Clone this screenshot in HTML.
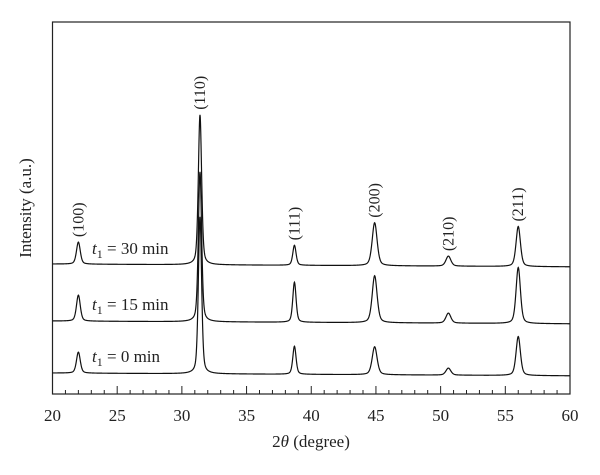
<!DOCTYPE html>
<html><head><meta charset="utf-8"><style>
html,body{margin:0;padding:0;background:#fff;}
svg{display:block;font-family:"Liberation Serif",serif;}
</style></head><body>
<svg id="chart" width="600" height="475" viewBox="0 0 600 475">
<rect x="52.5" y="22" width="517.5" height="372" fill="none" stroke="#222" stroke-width="1.2"/>
<g id="ticks"></g>
<g id="series"></g>
<g id="labels"></g>
<text x="31" y="208" transform="rotate(-90 31 208)" text-anchor="middle" font-size="17" fill="#222">Intensity (a.u.)</text>
<text x="311" y="447" text-anchor="middle" font-size="17" fill="#222">2<tspan font-style="italic">θ</tspan> (degree)</text>
<text x="92" y="254" font-size="17" fill="#222"><tspan font-style="italic">t</tspan><tspan font-size="12" dy="4">1</tspan><tspan dy="-4"> = 30 min</tspan></text>
<text x="92" y="310" font-size="17" fill="#222"><tspan font-style="italic">t</tspan><tspan font-size="12" dy="4">1</tspan><tspan dy="-4"> = 15 min</tspan></text>
<text x="92" y="362" font-size="17" fill="#222"><tspan font-style="italic">t</tspan><tspan font-size="12" dy="4">1</tspan><tspan dy="-4"> = 0 min</tspan></text>
</svg>
<script>
const xTicks = [20,25,30,35,40,45,50,55,60];
const peakPos = [22.0,31.4,38.7,44.9,50.6,56.0];
const peakWidth = [0.35,0.3,0.3,0.45,0.45,0.4];
const peakNames = ["(100)","(110)","(111)","(200)","(210)","(211)"];
const seriesNames = ["30 min","15 min","0 min"];
const seriesOffset = [130,73,21];
const heights30 = [22,150,20,43,10,40];
const heights15 = [26,150,40,47,10,56];
const heights0 = [21,157,28,28,7,39];
const allHeights = [heights30,heights15,heights0];

const X0=52.5,X1=570,Y0=394;
function xs(v){return X0+(v-20)/(60-20)*(X1-X0);}
function ys(v){return Y0-v;}
const NS="http://www.w3.org/2000/svg";
const ticks=document.getElementById('ticks');
for(let v=20;v<=60;v++){
  const major=xTicks.includes(v);
  const l=document.createElementNS(NS,'line');
  
  
  l.setAttribute('x1',xs(v));l.setAttribute('x2',xs(v));
  l.setAttribute('y1',Y0);l.setAttribute('y2',Y0-(major?8:4));
  l.setAttribute('stroke','#222');l.setAttribute('stroke-width','1');
  ticks.appendChild(l);
}
xTicks.forEach(v=>{
  const t=document.createElementNS(NS,'text');
  
  
  t.setAttribute('x',xs(v));t.setAttribute('y',421);
  t.setAttribute('text-anchor','middle');t.setAttribute('font-size','17');t.setAttribute('fill','#222');
  t.textContent=v;ticks.appendChild(t);
});
function profile(x,hs){
  let s=0;
  for(let i=0;i<peakPos.length;i++){
    const w=peakWidth[i]/2,d=(x-peakPos[i])/w;
    s+=hs[i]*(0.6*Math.exp(-0.693*d*d)+0.4/(1+d*d));
  }
  return s;
}
const sg=document.getElementById('series');
allHeights.forEach((hs,k)=>{
  let d='';
  for(let x=20;x<=60.0001;x+=0.02){
    const base=seriesOffset[k]-(x-20)*0.07;
    const y=base+profile(x,hs);
    d+=(d?'L':'M')+xs(x).toFixed(2)+','+ys(y).toFixed(2);
  }
  const p=document.createElementNS(NS,'path');
  
  
  p.setAttribute('d',d);p.setAttribute('fill','none');p.setAttribute('stroke','#111');p.setAttribute('stroke-width','1.2');
  sg.appendChild(p);
});
const lg=document.getElementById('labels');
peakNames.forEach((n,i)=>{
  const top=seriesOffset[0]-(peakPos[i]-20)*0.07+heights30[i];
  const x=xs(peakPos[i])+5, y=ys(top)-5;
  const t=document.createElementNS(NS,'text');
  
  
  t.setAttribute('x',x);t.setAttribute('y',y);
  t.setAttribute('transform','rotate(-90 '+x+' '+y+')');
  t.setAttribute('font-size','16');t.setAttribute('fill','#222');
  t.textContent=n;lg.appendChild(t);
});
</script>
</body></html>
